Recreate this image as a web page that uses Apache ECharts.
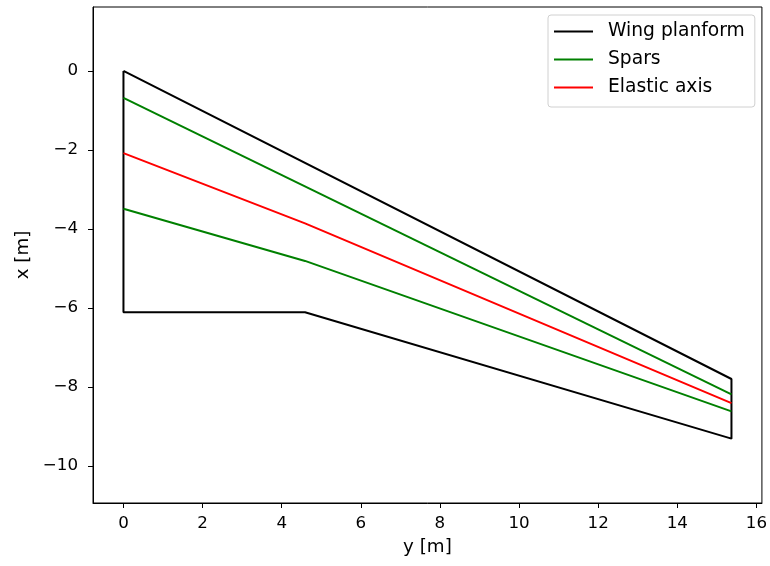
<!DOCTYPE html>
<html>
<head>
<meta charset="utf-8">
<script src="https://cdn.jsdelivr.net/npm/echarts@6/dist/echarts.min.js"></script>
<style>html,body{margin:0;padding:0;background:#fff}#c{width:770px;height:566px}</style>
</head>
<body>
<div id="c"></div>
<script>
// Wing planform outline (y = spanwise, x = chordwise)
const planformY = [0, 15.37, 15.37, 4.59, 0, 0];
const planformX = [0, -7.80, -9.31, -6.11, -6.11, 0];
// Front spar
const frontSparY = [0, 15.37];
const frontSparX = [-0.68, -8.19];
// Rear spar
const rearSparY = [0, 4.59, 15.37];
const rearSparX = [-3.49, -4.81, -8.62];
// Elastic axis
const elasticY = [0, 4.59, 15.37];
const elasticX = [-2.08, -3.86, -8.41];
// Tick labels
const xTicks = [0, 2, 4, 6, 8, 10, 12, 14, 16];
const yTicks = [-10, -8, -6, -4, -2, 0];

const pts = (a, b) => a.map((v, i) => [v, b[i]]);
const fmt = v => (v < 0 ? '\u2212' + Math.abs(v) : String(v));
const font = 'DejaVu Sans';

const chart = echarts.init(document.getElementById('c'), null, {renderer: 'canvas'});
const lineSeries = (name, data, color) => ({
  name, type: 'line', data, symbol: 'none', animation: false,
  lineStyle: {color, width: 2}, itemStyle: {color}
});
chart.setOption({
  animation: false,
  backgroundColor: '#fff',
  grid: {left: 93, right: 8, top: 7, bottom: 63, show: true, borderColor: '#000', borderWidth: 1, backgroundColor: 'transparent'},
  legend: {
    data: ['Wing planform', 'Spars', 'Elastic axis'],
    orient: 'vertical', left: 548, top: 15,
    icon: 'rect', itemWidth: 39, itemHeight: 2, itemGap: 9,
    padding: [7, 10, 10, 6],
    borderColor: '#d0d0d0', borderWidth: 1, borderRadius: 3, backgroundColor: 'rgba(255,255,255,0.8)',
    textStyle: {fontFamily: font, fontSize: 18.7, color: '#000', padding: [0, 0, 0, 10]}
  },
  xAxis: {
    type: 'value', min: -0.77, max: 16.14,
    name: 'y [m]', nameLocation: 'middle', nameGap: 35,
    nameTextStyle: {fontFamily: font, fontSize: 18.3, color: '#000'},
    axisLine: {show: true, onZero: false, lineStyle: {color: '#000', width: 1}},
    axisTick: {show: true, customValues: xTicks, length: 5, lineStyle: {color: '#000'}},
    axisLabel: {customValues: xTicks, formatter: fmt, fontFamily: font, fontSize: 16.7, color: '#000', margin: 12},
    splitLine: {show: false}
  },
  yAxis: {
    type: 'value', min: -10.94, max: 1.62,
    name: 'x [m]', nameLocation: 'middle', nameGap: 59, nameRotate: 90,
    nameTextStyle: {fontFamily: font, fontSize: 18.3, color: '#000'},
    axisLine: {show: true, onZero: false, lineStyle: {color: '#000', width: 1}},
    axisTick: {show: true, customValues: yTicks, length: 5, lineStyle: {color: '#000'}},
    axisLabel: {customValues: yTicks, formatter: fmt, fontFamily: font, fontSize: 16.7, color: '#000', margin: 15},
    splitLine: {show: false}
  },
  series: [
    lineSeries('Wing planform', pts(planformY, planformX), '#000000'),
    lineSeries('Spars', pts(frontSparY, frontSparX), '#008000'),
    lineSeries('Spars', pts(rearSparY, rearSparX), '#008000'),
    lineSeries('Elastic axis', pts(elasticY, elasticX), '#ff0000')
  ]
});
</script>
</body>
</html>
